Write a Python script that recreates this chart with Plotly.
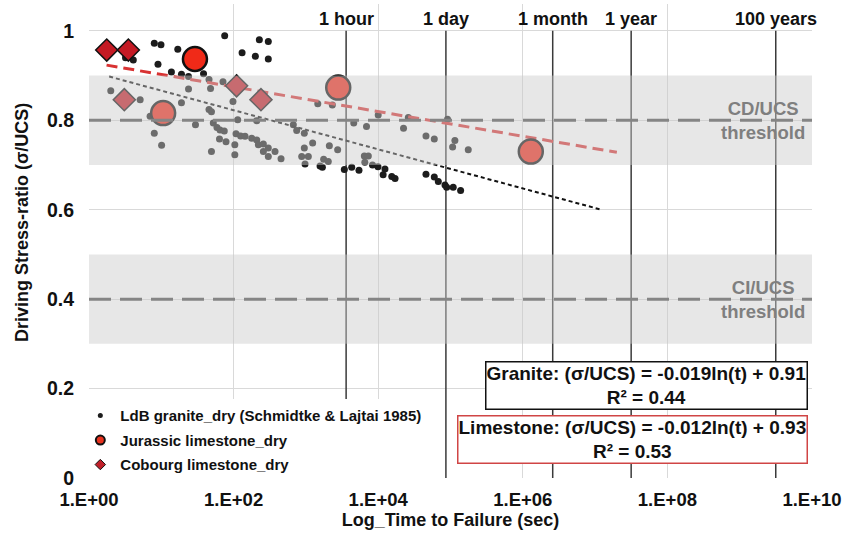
import numpy as np
import plotly.graph_objects as go

FONT = "Liberation Sans, Arial, sans-serif"

# LdB granite, dry (Schmidtke & Lajtai 1985): time to failure (s) and stress ratio
granite_t = [2.0, 3.2, 4.1, 5.1, 7.0, 8.0, 9.9, 9.0, 8.0, 10.1,
             13.8, 16.9, 19.0, 19.0, 23.8, 23.8, 29.7, 38.4, 45.7, 48.0,
             45.7, 49.4, 49.4, 52.4, 58.9, 63.8, 64.9, 71.3, 75.3, 74.3,
             78.5, 98, 104, 104, 108, 114, 125, 131, 144, 178,
             200, 209, 209, 220, 227, 258, 258, 302, 302, 302,
             302, 374, 453, 670, 746, 951, 1240, 951, 875, 1080,
             973, 1460, 2320, 1570, 1690, 1760, 2040, 2110, 2750, 3400,
             4300, 5420, 4590, 6890, 6430, 7300, 6530, 8340, 9930, 10000,
             12400, 11700, 15400, 17100, 22400, 26100, 45800, 59700, 45800, 59700,
             67800, 83900, 88500, 91000, 109000, 107000, 115000, 138000, 176000]
granite_ratio = [0.866, 0.940, 0.935, 0.846, 0.809, 0.972, 0.969, 0.925, 0.771, 0.744,
                 0.908, 0.959, 0.903, 0.839, 0.898, 0.870, 0.790, 0.904, 0.891, 0.871,
                 0.824, 0.819, 0.730, 0.794, 0.784, 0.758, 0.778, 0.886, 0.989, 0.776,
                 0.752, 0.842, 0.745, 0.723, 0.770, 0.801, 0.765, 0.951, 0.764, 0.760,
                 0.943, 0.756, 0.799, 0.745, 0.980, 0.747, 0.730, 0.976, 0.937, 0.738,
                 0.719, 0.730, 0.714, 0.790, 0.777, 0.771, 0.749, 0.738, 0.719, 0.719,
                 0.702, 0.837, 0.834, 0.698, 0.695, 0.713, 0.708, 0.743, 0.734, 0.690,
                 0.695, 0.688, 0.794, 0.786, 0.720, 0.720, 0.706, 0.700, 0.696, 0.812,
                 0.691, 0.678, 0.674, 0.670, 0.782, 0.806, 0.765, 0.758, 0.679, 0.673,
                 0.663, 0.655, 0.650, 0.802, 0.650, 0.740, 0.755, 0.643, 0.734]

# Limestone tests (dry)
jurassic_t = [29.2, 10.6, 2800, 1.29e6]
jurassic_ratio = [0.937, 0.816, 0.873, 0.730]
cobourg_t = [1.76, 3.5, 3.08, 110, 239]
cobourg_ratio = [0.957, 0.957, 0.846, 0.877, 0.846]

# Logarithmic fits: ratio = a*ln(t) + b, drawn over [t_start, t_end]
granite_fit = {"a": -0.019, "b": 0.91, "r2": 0.44, "span": [1.9, 1.25e7]}
limestone_fit = {"a": -0.012, "b": 0.93, "r2": 0.53, "span": [1.75, 2.0e7]}

# Reference durations (s)
time_labels = ["1 hour", "1 day", "1 month", "1 year", "100 years"]
time_seconds = [3600, 86400, 2.592e6, 3.1536e7, 3.1536e9]

# Threshold bands (ratio range) and their centre lines
threshold_names = ["CD/UCS<br>threshold", "CI/UCS<br>threshold"]
threshold_bands = [(0.7, 0.9), (0.3, 0.5)]
threshold_levels = [0.8, 0.4]

x_tickvals = [10 ** k for k in range(0, 11, 2)]
x_ticktext = ["1.E+%02d" % k for k in range(0, 11, 2)]
y_tickvals = [0, 0.2, 0.4, 0.6, 0.8, 1.0]
y_ticktext = ["0", "0.2", "0.4", "0.6", "0.8", "1"]

fig = go.Figure()

# granite points
fig.add_trace(go.Scatter(
    x=granite_t, y=granite_ratio, mode="markers",
    marker=dict(size=7, color="#1c1c1c"), showlegend=False, hoverinfo="x+y"))


def fit_line(fit):
    t = np.array(fit["span"], dtype=float)
    return t, fit["a"] * np.log(t) + fit["b"]


gx, gy = fit_line(granite_fit)
fig.add_trace(go.Scatter(x=gx, y=gy, mode="lines", showlegend=False,
                         line=dict(color="#111111", width=2, dash="4px,3px")))
lx, ly = fit_line(limestone_fit)
fig.add_trace(go.Scatter(x=lx, y=ly, mode="lines", showlegend=False,
                         line=dict(color="#d83232", width=3, dash="11px,6px")))

fig.add_trace(go.Scatter(
    x=cobourg_t, y=cobourg_ratio, mode="markers", showlegend=False,
    marker=dict(symbol="diamond", size=17, color="#c41a24",
                line=dict(color="#111111", width=1.5))))
fig.add_trace(go.Scatter(
    x=jurassic_t, y=jurassic_ratio, mode="markers", showlegend=False,
    marker=dict(symbol="circle", size=24, color="#f02a18",
                line=dict(color="#111111", width=2.5))))

# legend entries with small symbols
fig.add_trace(go.Scatter(x=[None], y=[None], mode="markers", legendgroup="g1",
                         name="LdB granite_dry (Schmidtke & Lajtai 1985)",
                         marker=dict(size=5, color="#1c1c1c")))
fig.add_trace(go.Scatter(x=[None], y=[None], mode="markers", legendgroup="g2",
                         name="Jurassic limestone_dry",
                         marker=dict(size=9, color="#e8321e",
                                     line=dict(color="#111111", width=2))))
fig.add_trace(go.Scatter(x=[None], y=[None], mode="markers", legendgroup="g3",
                         name="Cobourg limestone_dry",
                         marker=dict(symbol="diamond", size=8, color="#c0202a",
                                     line=dict(color="#111111", width=1))))

shapes = []
# reference time lines
for ts in time_seconds:
    shapes.append(dict(type="line", xref="x", yref="y", x0=ts, x1=ts, y0=0, y1=1,
                       layer="between", line=dict(color="#3a3a3a", width=1.5)))
# translucent threshold bands over the data
for lo, hi in threshold_bands:
    shapes.append(dict(type="rect", xref="paper", yref="y", x0=0, x1=1, y0=lo, y1=hi,
                       layer="above", line=dict(width=0),
                       fillcolor="rgba(202,202,202,0.46)"))
for lvl in threshold_levels:
    shapes.append(dict(type="line", xref="paper", yref="y", x0=0, x1=1, y0=lvl, y1=lvl,
                       layer="above", line=dict(color="#858585", width=3, dash="22px,9px")))

annotations = []
for lab, ts in zip(time_labels, time_seconds):
    annotations.append(dict(x=np.log10(ts), y=1.026, xref="x", yref="y", text=lab,
                            showarrow=False, xanchor="center", yanchor="middle",
                            font=dict(family=FONT, size=18, color="#111111", weight="bold")))
for name, lvl in zip(threshold_names, threshold_levels):
    annotations.append(dict(x=9.32, y=lvl, xref="x", yref="y", text=name,
                            showarrow=False, xanchor="center", yanchor="middle",
                            font=dict(family=FONT, size=18.5, color="#7f7f7f", weight="bold")))


def eq_text(label, fit):
    return "%s: (σ/UCS) = %.3fln(t) + %.2f<br>R² = %.2f" % (
        label, fit["a"], fit["b"], fit["r2"])


annotations.append(dict(x=0.995, y=0.207, xref="paper", yref="y",
                        text=eq_text("Granite", granite_fit), showarrow=False,
                        xanchor="right", yanchor="middle", align="center",
                        bgcolor="white", bordercolor="#111111", borderwidth=1.5, borderpad=0,
                        font=dict(family=FONT, size=19, color="#111111", weight="bold")))
annotations.append(dict(x=0.995, y=0.0857, xref="paper", yref="y",
                        text=eq_text("Limestone", limestone_fit), showarrow=False,
                        xanchor="right", yanchor="middle", align="center",
                        bgcolor="white", bordercolor="#d04545", borderwidth=1.5, borderpad=0,
                        font=dict(family=FONT, size=19, color="#111111", weight="bold")))
# y-axis title
annotations.append(dict(x=-0.0927, y=0.54, xref="paper", yref="paper",
                        text="Driving Stress-ratio (σ/UCS)", showarrow=False, textangle=-90,
                        xanchor="center", yanchor="middle",
                        font=dict(family=FONT, size=18, color="#111111", weight="bold")))

fig.update_layout(
    width=845, height=536,
    margin=dict(l=89, r=33, t=4, b=58),
    paper_bgcolor="white", plot_bgcolor="white",
    font=dict(family=FONT, size=18, color="#111111", weight="bold"),
    shapes=shapes, annotations=annotations,
    legend=dict(x=-0.012, y=0.166, xanchor="left", yanchor="top",
                bgcolor="white", tracegroupgap=2,
                font=dict(family=FONT, size=15, color="#111111", weight="bold")),
    xaxis=dict(type="log", range=[0, 10], tickvals=x_tickvals, ticktext=x_ticktext,
               showgrid=True, gridcolor="#d9d9d9", gridwidth=1, zeroline=False,
               showline=False, ticks="", ticklabelstandoff=8,
               tickfont=dict(family=FONT, size=18.5, color="#111111", weight="bold"),
               title=dict(text="Log_Time to Failure (sec)", standoff=4,
                          font=dict(family=FONT, size=18, color="#111111", weight="bold"))),
    yaxis=dict(range=[0, 1.06], tickvals=y_tickvals, ticktext=y_ticktext,
               showgrid=True, gridcolor="#d9d9d9", gridwidth=1, zeroline=False,
               showline=False, ticks="", ticklabelstandoff=14,
               tickfont=dict(family=FONT, size=19.5, color="#111111", weight="bold")),
)

fig.write_html("out.html")
